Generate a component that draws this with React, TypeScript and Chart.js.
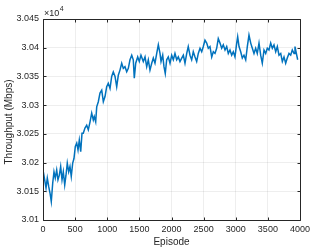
import React, { useEffect, useRef } from "react";
import { Chart, registerables } from "chart.js";

Chart.register(...registerables);

const episodes: number[] = [
  5, 26, 47, 67, 89, 109, 129, 151, 171, 191, 213, 233, 254, 275, 296, 316, 338, 358, 378, 400,
  420, 440, 462, 482, 503, 525, 545, 565, 587, 607, 627, 653, 680, 705, 732, 758, 783, 798, 820, 836,
  861, 887, 914, 939, 965, 991, 1016, 1043, 1069, 1094, 1121, 1147, 1172, 1198, 1225, 1250, 1276, 1303, 1328, 1354,
  1381, 1405, 1421, 1443, 1474, 1499, 1525, 1561, 1588, 1614, 1639, 1665, 1692, 1717, 1743, 1770, 1795, 1821, 1837, 1863,
  1883, 1903, 1925, 1950, 1977, 2003, 2028, 2054, 2081, 2106, 2132, 2159, 2184, 2210, 2237, 2261, 2288, 2314, 2339, 2366,
  2392, 2417, 2444, 2470, 2495, 2521, 2548, 2573, 2599, 2626, 2651, 2677, 2703, 2728, 2755, 2781, 2806, 2833, 2859, 2884,
  2910, 2937, 2962, 2988, 3015, 3030, 3051, 3077, 3102, 3128, 3155, 3180, 3206, 3233, 3258, 3284, 3310, 3335, 3362, 3388,
  3413, 3440, 3466, 3491, 3517, 3544, 3569, 3595, 3622, 3647, 3673, 3700, 3725, 3751, 3777, 3802, 3829, 3855, 3880, 3907,
  3922, 3949, 3964,
];

const throughput: number[] = [
  30184, 30170, 30156, 30173, 30158, 30147, 30132, 30164, 30184, 30173, 30187, 30170, 30178, 30193, 30170, 30184, 30161, 30178, 30199, 30184,
  30193, 30176, 30199, 30207, 30228, 30234, 30222, 30239, 30219, 30251, 30251, 30260, 30265, 30257, 30271, 30286, 30274, 30280, 30271, 30297,
  30306, 30321, 30326, 30306, 30315, 30332, 30338, 30329, 30350, 30358, 30350, 30332, 30352, 30361, 30373, 30364, 30367, 30358, 30364, 30379,
  30387, 30379, 30347, 30373, 30384, 30376, 30387, 30376, 30384, 30367, 30379, 30361, 30373, 30382, 30373, 30390, 30405, 30390, 30376, 30387,
  30367, 30355, 30379, 30384, 30373, 30387, 30379, 30390, 30379, 30384, 30376, 30382, 30387, 30373, 30390, 30402, 30387, 30379, 30393, 30384,
  30376, 30390, 30399, 30393, 30402, 30413, 30408, 30399, 30402, 30384, 30393, 30390, 30399, 30416, 30408, 30399, 30405, 30396, 30402, 30390,
  30396, 30387, 30393, 30384, 30408, 30419, 30402, 30393, 30382, 30387, 30379, 30402, 30422, 30408, 30399, 30390, 30399, 30390, 30408, 30387,
  30373, 30396, 30390, 30399, 30396, 30408, 30399, 30405, 30393, 30402, 30387, 30390, 30376, 30384, 30373, 30382, 30390, 30387, 30396, 30390,
  30402, 30387, 30379,
];

const xTicks: number[] = [0, 500, 1000, 1500, 2000, 2500, 3000, 3500, 4000];
const yTicks: number[] = [30100, 30150, 30200, 30250, 30300, 30350, 30400, 30450];

const xLabel = "Episode";
const yLabel = "Throughput (Mbps)";

const AXIS = "#262626";
const GRID = "rgba(38,38,38,0.08)";
const FONT = "'Liberation Sans', Arial, Helvetica, sans-serif";

export default function App() {
  const ref = useRef<HTMLCanvasElement | null>(null);

  useEffect(() => {
    if (!ref.current) return;
    const frame = {
      id: "matlabFrame",
      afterDraw(chart: any) {
        const { ctx, chartArea: a, scales } = chart;
        ctx.save();
        ctx.strokeStyle = AXIS;
        ctx.lineWidth = 1;
        const L = Math.round(a.left) + 0.5;
        const R = Math.round(a.right) + 0.5;
        const T = Math.round(a.top) + 0.5;
        const B = Math.round(a.bottom) + 0.5;
        ctx.beginPath();
        ctx.rect(L, T, R - L, B - T);
        ctx.stroke();
        const tl = 3;
        ctx.beginPath();
        xTicks.forEach((v) => {
          const px = Math.round(scales.x.getPixelForValue(v)) + 0.5;
          ctx.moveTo(px, B);
          ctx.lineTo(px, B - tl);
          ctx.moveTo(px, T);
          ctx.lineTo(px, T + tl);
        });
        yTicks.forEach((v) => {
          const py = Math.round(scales.y.getPixelForValue(v)) + 0.5;
          ctx.moveTo(L, py);
          ctx.lineTo(L + tl, py);
          ctx.moveTo(R, py);
          ctx.lineTo(R - tl, py);
        });
        ctx.stroke();

        ctx.fillStyle = AXIS;
        ctx.font = `10px ${FONT}`;
        ctx.textAlign = "center";
        ctx.textBaseline = "middle";
        ctx.fillText(xLabel, (a.left + a.right) / 2, 242);
        ctx.save();
        ctx.translate(9, 122);
        ctx.rotate(-Math.PI / 2);
        ctx.fillText(yLabel, 0, 0);
        ctx.restore();
        ctx.textAlign = "left";
        ctx.textBaseline = "alphabetic";
        ctx.font = `9px ${FONT}`;
        ctx.fillText("\u00d710", a.left + 1, a.top - 3);
        const w = ctx.measureText("\u00d710").width;
        ctx.font = `7px ${FONT}`;
        ctx.fillText("4", a.left + 1 + w + 0.5, a.top - 8);
        ctx.restore();
      },
    };

    const chart = new Chart(ref.current, {
      type: "line",
      data: {
        datasets: [
          {
            data: episodes.map((e, i) => ({ x: e, y: throughput[i] })),
            borderColor: "#0072BD",
            borderWidth: 1.5,
            pointRadius: 0,
            tension: 0,
            fill: false,
          },
        ],
      },
      options: {
        animation: false,
        responsive: false,
        maintainAspectRatio: false,
        layout: { padding: { top: 19, right: 32, left: 0, bottom: 0 } },
        plugins: { legend: { display: false }, tooltip: { enabled: false } },
        scales: {
          x: {
            type: "linear",
            min: 0,
            max: 4000,
            afterBuildTicks: (s: any) => {
              s.ticks = xTicks.map((v) => ({ value: v }));
            },
            afterFit: (s: any) => {
              s.height = 29;
            },
            ticks: {
              color: AXIS,
              font: { size: 9, family: FONT },
              padding: 4,
              maxRotation: 0,
              autoSkip: false,
              callback: (v: any) => String(v),
            },
            grid: { color: GRID, drawTicks: false, lineWidth: 1 },
            border: { display: false },
          },
          y: {
            type: "linear",
            min: 30100,
            max: 30450,
            afterBuildTicks: (s: any) => {
              s.ticks = yTicks.map((v) => ({ value: v }));
            },
            afterFit: (s: any) => {
              s.width = 43;
            },
            ticks: {
              color: AXIS,
              font: { size: 9, family: FONT },
              padding: 4,
              autoSkip: false,
              callback: (v: any) => (Number(v) / 1e4).toFixed(3).replace(/0+$/, ""),
            },
            grid: { color: GRID, drawTicks: false, lineWidth: 1 },
            border: { display: false },
          },
        },
      },
      plugins: [frame],
    });
    return () => chart.destroy();
  }, []);

  return (
    <div style={{ position: "fixed", left: 0, top: 0, width: 332, height: 249, background: "#fff" }}>
      <canvas ref={ref} width={332} height={249} style={{ width: 332, height: 249, display: "block" }} />
    </div>
  );
}
